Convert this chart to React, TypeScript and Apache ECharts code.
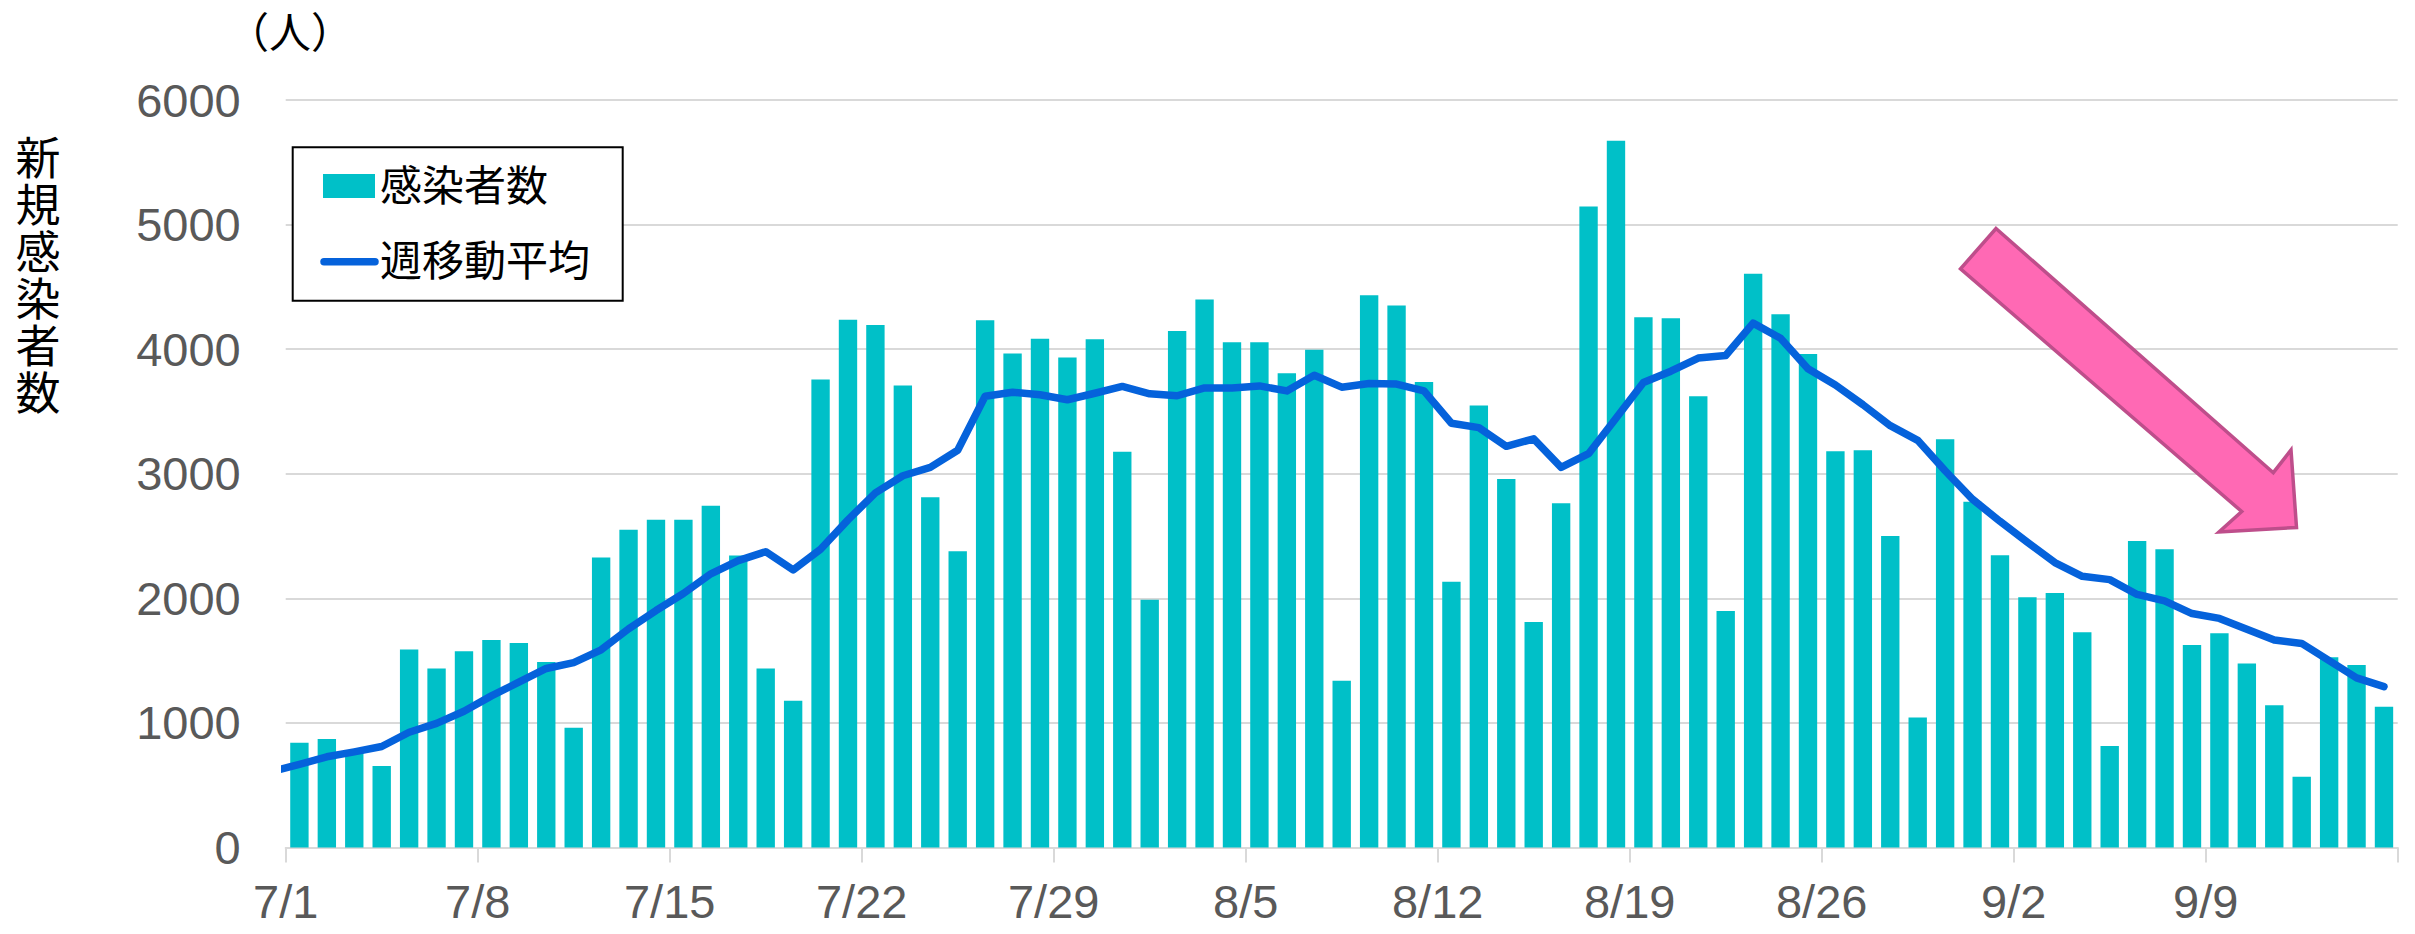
import React, { useEffect, useRef } from "react";
import * as echarts from "echarts";

const dates = [
  "7/1","7/2","7/3","7/4","7/5","7/6","7/7","7/8","7/9","7/10","7/11","7/12","7/13","7/14","7/15","7/16","7/17","7/18","7/19","7/20","7/21","7/22","7/23","7/24","7/25","7/26","7/27","7/28","7/29","7/30","7/31",
  "8/1","8/2","8/3","8/4","8/5","8/6","8/7","8/8","8/9","8/10","8/11","8/12","8/13","8/14","8/15","8/16","8/17","8/18","8/19","8/20","8/21","8/22","8/23","8/24","8/25","8/26","8/27","8/28","8/29","8/30","8/31",
  "9/1","9/2","9/3","9/4","9/5","9/6","9/7","9/8","9/9","9/10","9/11","9/12","9/13","9/14","9/15",
];

const cases = [
  840, 870, 760, 655, 1590, 1437, 1575, 1665, 1642, 1488, 961, 2327, 2551,
  2630, 2630, 2744, 2343, 1437, 1177, 3756, 4236, 4193, 3709, 2811, 2378, 4232,
  3965, 4083, 3933, 4079, 3177, 1988, 4146, 4398, 4055, 4055, 3807, 3996, 1339,
  4433, 4350, 3736, 2134, 3547, 2957, 1811, 2764, 5146, 5673, 4256, 4248, 3622,
  1898, 4606, 4280, 3961, 3181, 3189, 2500, 1043, 3276, 2776, 2346, 2008,
  2043, 1728, 815, 2461, 2394, 1626, 1720, 1476, 1142, 567, 1528, 1465, 1130,
];

// weekly moving average for 6/30 (drawn clipped at the left edge)
const prevAverage = 610;
const average = [
  668, 728, 768, 811, 925, 996, 1094, 1217, 1327, 1437, 1484, 1587, 1755,
  1902, 2039, 2197, 2303, 2374, 2228, 2394, 2630, 2846, 2984, 3051, 3189, 3622,
  3654, 3634, 3594, 3646, 3701, 3642, 3626, 3689, 3689, 3705, 3665, 3791, 3695,
  3724, 3720, 3665, 3405, 3370, 3220, 3280, 3051, 3161, 3445, 3732, 3823, 3929,
  3949, 4209, 4087, 3843, 3713, 3555, 3386, 3268, 3024, 2795, 2618, 2450,
  2287, 2177, 2150, 2031, 1980, 1878, 1839, 1752, 1665, 1638, 1500, 1362, 1291,
];

const xTickLabels = ["7/1", "7/8", "7/15", "7/22", "7/29", "8/5", "8/12", "8/19", "8/26", "9/2", "9/9"];
const yTicks = [0, 1000, 2000, 3000, 4000, 5000, 6000];

const seriesNames = ["感染者数", "週移動平均"];
const yTitleChars = ["新", "規", "感", "染", "者", "数"];
const unitLabel = "（人）";

const BAR = "#00C0C8";
const LINE = "#0562DB";
const GRID = "#D9D9D9";
const LABEL = "#595959";
const NUM_FONT = "'Liberation Sans', Arial, sans-serif";
const CJK_FONT = "'Noto Sans CJK JP', sans-serif";

export default function App() {
  const ref = useRef<HTMLDivElement>(null);

  useEffect(() => {
    document.body.style.margin = "0";
    if (!ref.current) return;
    const chart = echarts.init(ref.current, null, { renderer: "svg" });

    const lineData: [number, number][] = [[-0.5, prevAverage]].concat(
      average.map((v, i) => [i + 0.5, v] as [number, number])
    ) as [number, number][];

    const titleTexts = yTitleChars.map((ch, k) => ({
      type: "text",
      style: {
        text: ch,
        x: 38,
        y: 155 + k * 47,
        align: "center",
        verticalAlign: "middle",
        fontSize: 45,
        lineHeight: 45,
        fontFamily: CJK_FONT,
        fill: "#000",
      },
    }));

    const option: any = {
      animation: false,
      backgroundColor: "#ffffff",
      grid: { left: 285.7, right: 17.3, top: 100, bottom: 86.5, containLabel: false },
      xAxis: [
        {
          type: "category",
          data: dates,
          boundaryGap: true,
          axisLine: { show: true, lineStyle: { color: GRID, width: 2 } },
          axisTick: { show: false },
          axisLabel: { show: false },
          splitLine: { show: false },
        },
        {
          type: "value",
          min: 0,
          max: dates.length,
          interval: 7,
          position: "bottom",
          offset: 0,
          axisLine: { show: false },
          axisTick: { show: true, length: 15, lineStyle: { color: GRID, width: 2 } },
          splitLine: { show: false },
          axisLabel: {
            show: true,
            margin: 30,
            fontSize: 47,
            color: LABEL,
            fontFamily: NUM_FONT,
            showMaxLabel: true,
            formatter: (v: number) => xTickLabels[Math.round(v / 7)] ?? "",
          },
        },
      ],
      yAxis: {
        type: "value",
        min: yTicks[0],
        max: yTicks[yTicks.length - 1],
        interval: 1000,
        axisLine: { show: false },
        axisTick: { show: false },
        splitLine: { show: true, lineStyle: { color: GRID, width: 2 } },
        axisLabel: {
          margin: 45,
          fontSize: 47,
          color: LABEL,
          fontFamily: NUM_FONT,
          formatter: (v: number) => String(v),
        },
      },
      series: [
        {
          name: seriesNames[0],
          type: "bar",
          xAxisIndex: 0,
          data: cases,
          barCategoryGap: "33%",
          itemStyle: { color: BAR },
        },
        {
          name: seriesNames[1],
          type: "line",
          xAxisIndex: 1,
          data: lineData,
          showSymbol: false,
          symbol: "none",
          clip: true,
          lineStyle: { color: LINE, width: 7.5, cap: "round", join: "round" },
          z: 3,
        },
      ],
      graphic: [
        {
          type: "text",
          style: {
            text: unitLabel,
            x: 290,
            y: 8,
            align: "center",
            verticalAlign: "top",
            fontSize: 42,
            fontFamily: CJK_FONT,
            fill: "#000",
          },
        },
        ...titleTexts,
        {
          type: "rect",
          z: 10,
          shape: { x: 292.7, y: 147.3, width: 330, height: 153.4 },
          style: { fill: "#fff", stroke: "#000", lineWidth: 2 },
        },
        {
          type: "rect",
          z: 11,
          shape: { x: 323, y: 174, width: 52, height: 24 },
          style: { fill: BAR },
        },
        {
          type: "text",
          z: 11,
          style: {
            text: seriesNames[0],
            x: 380,
            y: 182,
            align: "left",
            verticalAlign: "middle",
            fontSize: 42,
            fontFamily: CJK_FONT,
            fill: "#000",
          },
        },
        {
          type: "line",
          z: 11,
          shape: { x1: 324, y1: 261.7, x2: 375, y2: 261.7 },
          style: { stroke: LINE, lineWidth: 7.5, lineCap: "round" },
        },
        {
          type: "text",
          z: 11,
          style: {
            text: seriesNames[1],
            x: 380,
            y: 257,
            align: "left",
            verticalAlign: "middle",
            fontSize: 42,
            fontFamily: CJK_FONT,
            fill: "#000",
          },
        },
        {
          type: "polygon",
          z: 12,
          shape: {
            points: [
              [1996, 228.5],
              [2273.3, 472.7],
              [2291, 450],
              [2296.5, 527.5],
              [2219, 532],
              [2241.7, 511.5],
              [1960.5, 268.8],
            ],
          },
          style: { fill: "#FF69B4", stroke: "#BE4E8B", lineWidth: 3.5, lineJoin: "miter" },
        },
      ],
    };

    chart.setOption(option);
    return () => chart.dispose();
  }, []);

  return <div ref={ref} style={{ width: 2415, height: 934 }} />;
}
